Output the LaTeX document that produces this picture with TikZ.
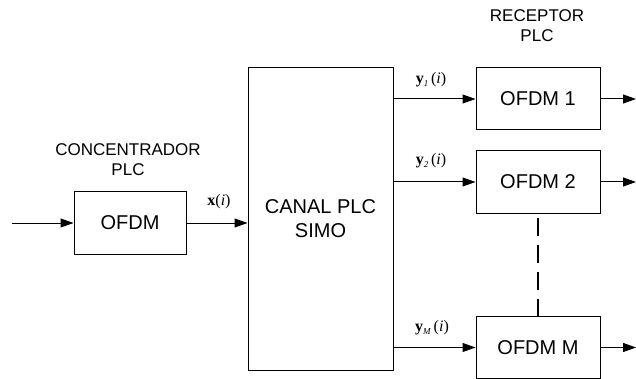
\documentclass[tikz,border=0pt]{standalone}
\usepackage{fontspec}
\setmainfont{Liberation Sans}
\newfontfamily\tmr{Liberation Serif}
\usetikzlibrary{arrows.meta}
\newcommand{\vlab}[2]{{\tmr\textbf{#1}\raisebox{-2.5pt}{\fontsize{9}{9}\selectfont\textit{#2}}\,(\textit{i})}}
\begin{document}
\begin{tikzpicture}[x=1pt,y=-1pt,
  blk/.style={draw,line width=1pt,minimum width=124pt,minimum height=62pt,inner sep=0pt,font=\fontsize{20}{24}\selectfont},
  arr/.style={line width=1pt,-{Triangle[length=13pt,width=9pt]}},
  lbl/.style={font=\fontsize{17}{20}\selectfont,align=center},
  mlbl/.style={font=\fontsize{16}{18}\selectfont}]
\useasboundingbox (0,0) rectangle (636,379);
\node[blk,minimum width=112pt] (ofdm) at (130,223) {OFDM};
\node[draw,line width=1pt,minimum width=145pt,minimum height=302pt,inner sep=0pt,font=\fontsize{20}{24}\selectfont,align=center] (canal) at (320.5,219) {CANAL PLC\\SIMO};
\node[blk] (o1) at (538,99) {OFDM 1};
\node[blk] (o2) at (538,182) {OFDM 2};
\node[blk] (om) at (538,347.5) {OFDM M};
\coordinate (in) at (12,223);
\coordinate (e1) at (636,99);
\coordinate (e2) at (636,182);
\coordinate (em) at (636,347.5);
\draw[arr] (in) -- (ofdm);
\draw[arr] (ofdm) -- (canal.west |- ofdm);
\draw[arr] (canal.east |- o1) -- (o1);
\draw[arr] (canal.east |- o2) -- (o2);
\draw[arr] (canal.east |- om) -- (om);
\draw[arr] (o1) -- (e1);
\draw[arr] (o2) -- (e2);
\draw[arr] (om) -- (em);
\draw[line width=1.8pt,dash pattern=on 18pt off 9pt,dash phase=-4pt] (o2.south) -- (om.north);
\node[lbl] (conc) at (128,160) {CONCENTRADOR\\PLC};
\node[lbl] (rec) at (537,26) {RECEPTOR\\PLC};
\node[mlbl] (lx) at (219,202) {{\tmr\textbf{x}(\textit{i})}};
\node[mlbl] (ly1) at (431,80) {\vlab{y}{1}};
\node[mlbl] (ly2) at (431,161) {\vlab{y}{2}};
\node[mlbl] (lym) at (432,328) {\vlab{y}{M}};
\end{tikzpicture}
\end{document}
